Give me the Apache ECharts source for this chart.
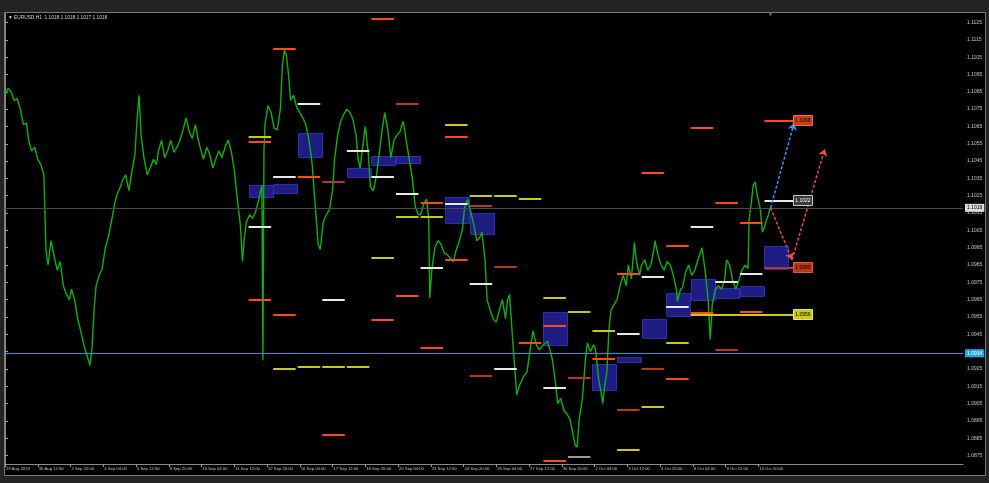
<!DOCTYPE html>
<html><head><meta charset="utf-8">
<script src="https://cdn.jsdelivr.net/npm/echarts@6/dist/echarts.min.js"></script>
<style>html,body{margin:0;padding:0;background:#242424;}#c{width:989px;height:483px;}</style>
</head><body><div id="c"></div>
<script>
// ---------- data ----------
const titleText = '\u25BC EURUSD,H1  1.1018 1.1018 1.1017 1.1018';
const xLabels = ['29 Aug 2019','30 Aug 12:00','2 Sep 20:00','4 Sep 04:00','5 Sep 12:00','6 Sep 20:00','10 Sep 04:00','11 Sep 12:00','12 Sep 20:00','16 Sep 04:00','17 Sep 12:00','18 Sep 20:00','20 Sep 04:00','23 Sep 12:00','24 Sep 20:00','26 Sep 04:00','27 Sep 12:00','30 Sep 20:00','2 Oct 04:00','3 Oct 12:00','4 Oct 20:00','8 Oct 04:00','9 Oct 12:00','10 Oct 20:00'];
const barsPerLabel = 32;
const yTicks = [1.0875,1.0885,1.0895,1.0905,1.0915,1.0925,1.0935,1.0945,1.0955,1.0965,1.0975,1.0985,1.0995,1.1005,1.1015,1.1025,1.1035,1.1045,1.1055,1.1065,1.1075,1.1085,1.1095,1.1105,1.1115,1.1125];
const bidPrice = 1.1018;
const cyanLevel = 1.0934;
// close price per H1 bar index [bar, close]
const priceLine = [[0,1.1083],[3,1.1087],[6,1.1085],[9,1.1080],[12,1.1081],[15,1.1075],[18,1.1066],[21,1.1067],[23,1.1057],[26,1.1051],[29,1.1053],[32,1.1046],[35,1.1043],[38,1.1037],[40,1.0994],[42,1.0985],[45,1.0999],[48,1.0990],[51,1.0982],[54,1.0987],[57,1.0973],[60,1.0968],[63,1.0965],[65,1.0971],[68,1.0965],[71,1.0954],[74,1.0947],[77,1.0939],[80,1.0933],[83,1.0927],[85,1.0937],[87,1.0959],[89,1.0973],[92,1.0979],[95,1.0983],[98,1.0995],[101,1.1001],[104,1.1010],[107,1.1020],[109,1.1025],[112,1.1029],[115,1.1034],[118,1.1037],[121,1.1028],[124,1.1039],[127,1.1049],[129,1.1069],[131,1.1083],[133,1.1060],[136,1.1046],[139,1.1037],[142,1.1041],[145,1.1046],[148,1.1043],[150,1.1051],[153,1.1057],[156,1.1047],[159,1.1051],[162,1.1057],[165,1.1050],[168,1.1053],[171,1.1057],[174,1.1063],[177,1.1070],[180,1.1062],[183,1.1058],[186,1.1066],[189,1.1057],[192,1.1050],[194,1.1046],[197,1.1053],[200,1.1049],[203,1.1041],[206,1.1046],[209,1.1051],[212,1.1047],[215,1.1053],[218,1.1057],[221,1.1051],[224,1.1040],[227,1.1023],[230,1.1008],[232,1.0987],[234,1.1002],[236,1.1010],[239,1.1014],[242,1.1012],[245,1.1016],[248,1.1023],[251,1.1031],[252,1.0930],[253,1.1051],[254,1.1066],[257,1.1077],[260,1.1073],[263,1.1064],[266,1.1063],[269,1.1075],[271,1.1100],[273,1.1109],[275,1.1106],[277,1.1095],[279,1.1080],[282,1.1083],[285,1.1076],[288,1.1073],[291,1.1070],[294,1.1066],[297,1.1057],[300,1.1044],[303,1.1020],[306,1.0997],[308,1.0994],[311,1.1010],[314,1.1014],[317,1.1017],[320,1.1028],[322,1.1046],[325,1.1060],[328,1.1068],[331,1.1072],[334,1.1075],[337,1.1073],[340,1.1069],[343,1.1060],[345,1.1046],[347,1.1041],[349,1.1051],[352,1.1065],[355,1.1049],[357,1.1030],[360,1.1028],[363,1.1037],[365,1.1046],[368,1.1061],[371,1.1073],[374,1.1063],[377,1.1047],[380,1.1057],[383,1.1060],[386,1.1062],[389,1.1068],[392,1.1057],[395,1.1046],[398,1.1035],[401,1.1018],[404,1.1014],[406,1.1014],[409,1.1020],[412,1.1023],[414,1.1011],[415,1.0966],[417,1.0982],[420,1.0995],[423,1.0999],[426,1.0997],[429,1.0992],[432,1.0991],[435,1.0989],[438,1.0987],[441,1.0994],[444,1.0999],[447,1.1006],[449,1.1018],[452,1.1023],[455,1.1016],[458,1.1008],[461,1.0999],[464,1.1001],[466,1.1004],[469,1.0988],[471,1.0965],[474,1.0959],[477,1.0954],[480,1.0952],[483,1.0959],[486,1.0965],[489,1.0954],[491,1.0965],[493,1.0968],[496,1.0942],[498,1.0926],[500,1.0910],[503,1.0916],[507,1.0921],[510,1.0923],[513,1.0936],[516,1.0947],[519,1.0939],[522,1.0936],[526,1.0939],[530,1.0941],[532,1.0937],[535,1.0930],[538,1.0916],[540,1.0905],[543,1.0908],[546,1.0901],[549,1.0899],[552,1.0896],[555,1.0887],[557,1.0881],[559,1.0880],[561,1.0896],[564,1.0907],[567,1.0930],[569,1.0940],[572,1.0935],[575,1.0939],[577,1.0936],[580,1.0919],[582,1.0913],[584,1.0905],[586,1.0916],[588,1.0923],[590,1.0947],[592,1.0959],[595,1.0962],[598,1.0965],[601,1.0973],[604,1.0979],[607,1.0973],[609,1.0985],[612,1.0977],[615,1.0998],[617,1.0987],[620,1.0979],[622,1.0985],[625,1.0988],[628,1.0982],[631,1.0985],[634,1.0994],[635,1.0999],[638,1.0991],[641,1.0985],[644,1.0982],[647,1.0987],[650,1.0985],[653,1.0979],[656,1.0971],[657,1.0964],[660,1.0971],[662,1.0972],[665,1.0981],[668,1.0985],[671,1.0979],[674,1.0982],[677,1.0988],[681,1.0995],[684,1.0982],[687,1.0965],[689,1.0942],[691,1.0962],[694,1.0971],[697,1.0973],[700,1.0971],[703,1.0976],[705,1.0988],[708,1.0985],[711,1.0976],[714,1.0971],[717,1.0976],[720,1.0982],[723,1.0985],[726,1.0983],[727,1.1011],[729,1.1020],[731,1.1031],[733,1.1033],[735,1.1025],[737,1.1020],[738,1.1017],[740,1.1004],[742,1.1007],[744,1.1011],[746,1.1014],[747,1.1017],[748,1.1018]];
// daily level segments [startBar, price]
const whiteLv = [[238,1.1007],[262,1.1036],[286,1.1078],[310,1.0965],[334,1.1051],[358,1.1036],[382,1.1026],[406,1.0983],[430,1.1020],[454,1.0974],[478,1.0925],[526,1.0914],[598,1.0945],[622,1.0978],[646,1.0961],[670,1.1007],[694,1.0975],[718,1.0980]];
const greyLv = [[550,1.0874]];
const orangeLv = [[238,1.1056],[238,1.0965],[262,1.1110],[262,1.0956],[286,1.1036],[310,1.0887],[358,1.1127],[358,1.0953],[382,1.0967],[406,1.1021],[406,1.0937],[430,1.1059],[430,1.0988],[502,1.0940],[526,1.0950],[526,1.0872],[574,1.0931],[598,1.0980],[622,1.1038],[646,1.0996],[646,1.0919],[670,1.1064],[670,1.0957],[694,1.1021],[718,1.1009],[718,1.0958]];
const darkLv = [[310,1.1033],[382,1.1078],[454,1.1019],[454,1.0921],[478,1.0984],[550,1.0920],[598,1.0901],[622,1.0925],[694,1.0936]];
const yellowLv = [[238,1.1059],[262,1.0925],[286,1.0926],[310,1.0926],[334,1.0926],[358,1.0989],[382,1.1013],[406,1.1013],[430,1.1066],[454,1.1025],[478,1.1025],[502,1.1023],[526,1.0966],[550,1.0958],[574,1.0947],[598,1.0878],[622,1.0903],[646,1.0940]];
// labelled levels [startBar, endBar, price, colour index]
const lastLv = [[742,770,1.1068,1],[742,770,1.1022,0],[742,770,1.0983,2],[670,770,1.0956,3]];
// daily boxes [startBar, top, bottom]
const boxLv = [[238,1.1031,1.1024],[262,1.1032,1.1027],[286,1.1061,1.1047],[334,1.1041,1.1036],[358,1.1048,1.1043],[382,1.1048,1.1044],[430,1.1024,1.1009],[454,1.1015,1.1003],[526,1.0958,1.0939],[574,1.0928,1.0913],[598,1.0932,1.0929],[622,1.0954,1.0943],[646,1.0969,1.0956],[670,1.0977,1.0965],[694,1.0972,1.0966],[718,1.0973,1.0967],[742,1.0996,1.0983]];
// projection arrows
const blueArrow = [[748,1.1018],[771,1.1067]];
const redArrow = [[748,1.1018],[769,1.0988],[801,1.1052]];

// ---------- chart ----------
const SEG_LEN = 22;
const segColors = ['#e8e8e8','#ff4a12','#b8361c','#c9c91c','#9a9a9a'];
const lblFill = ['#3a3a3a','#c8401a','#b8361c','#c9c91c'];
const lblStroke = ['#c8c8c8','#ff6a3a','#e05a3a','#e8e850'];
const lblText = ['#ffffff','#000000','#000000','#000000'];
const segData = [].concat(
  whiteLv.map(([s,p])=>[s,s+SEG_LEN,p,0]),
  orangeLv.map(([s,p])=>[s,s+SEG_LEN,p,1]),
  darkLv.map(([s,p])=>[s,s+SEG_LEN,p,2]),
  yellowLv.map(([s,p])=>[s,s+SEG_LEN,p,3]),
  greyLv.map(([s,p])=>[s,s+SEG_LEN,p,4]),
  lastLv.map(([s,e,p,c])=>[s,e,p,c])
);
const boxData = boxLv.map(([s,t,b])=>[s,s+SEG_LEN+1,t,b]);
const lblData = lastLv.map(([s,e,p,c])=>[e,p,c]);
const xTickIdx = xLabels.map((_,k)=>k*barsPerLabel);
const FONT = '"Liberation Sans", "DejaVu Sans", sans-serif';

const chart = echarts.init(document.getElementById('c'));
chart.setOption({
  animation:false,
  backgroundColor:'#242424',
  grid:{left:5,right:26,top:13,bottom:19},
  graphic:[
    {type:'rect', z:-10, shape:{x:4.5,y:12.5,width:981,height:463}, style:{fill:'#000',stroke:'#7a7a7a',lineWidth:1}},
    {type:'text', z:50, left:8, top:15, style:{text:titleText, fill:'#d8d8d8', font:'4.8px '+FONT}},
    {type:'text', z:50, left:768, top:12, style:{text:'\u25BC', fill:'#8a8a8a', font:'5px '+FONT}}
  ],
  xAxis:{type:'value', min:0, max:936,
    axisLine:{show:true,onZero:false,lineStyle:{color:'#8a8a8a',width:1}},
    splitLine:{show:false},
    axisTick:{show:true,customValues:xTickIdx,length:3,lineStyle:{color:'#9a9a9a'}},
    axisLabel:{customValues:xTickIdx, showMinLabel:true, hideOverlap:false, formatter:v=>xLabels[Math.round(v/barsPerLabel)]||'', align:'left', color:'#c4c4c4', fontSize:4.2, fontFamily:FONT, margin:3, padding:[0,0,0,1]}
  },
  yAxis:{type:'value', position:'right', min:1.08701, max:1.11305, scale:true,
    axisLine:{show:true,lineStyle:{color:'#8a8a8a',width:1}},
    splitLine:{show:false},
    axisTick:{show:true,customValues:yTicks,length:3,lineStyle:{color:'#9a9a9a'}},
    axisLabel:{customValues:yTicks, showMinLabel:true, showMaxLabel:true, formatter:v=>v.toFixed(4), color:'#c4c4c4', fontSize:5, fontFamily:FONT, margin:4}
  },
  series:[
    {type:'custom', z:1, silent:true, data:boxData, encode:{x:[0,1],y:[2,3]},
      renderItem:(params,api)=>{
        const a=api.coord([api.value(0),api.value(2)]), b=api.coord([api.value(1),api.value(3)]);
        return {type:'rect', shape:{x:Math.round(a[0])+0.5,y:Math.round(a[1])+0.5,width:Math.round(b[0]-a[0]),height:Math.round(b[1]-a[1])},
          style:{fill:'#1d1d84',stroke:'#2e2eaa',lineWidth:1}};
      }},
    {type:'line', z:2, data:priceLine, showSymbol:false, symbol:'none', silent:true,
      lineStyle:{color:'#12ae12',width:1.4},
      markLine:{silent:true, symbol:'none', animation:false, precision:4,
        data:[
          {yAxis:bidPrice, lineStyle:{color:'#4a4a4a',width:1,type:'solid'},
            label:{show:true,position:'end',distance:2,formatter:p=>Number(p.value).toFixed(4),backgroundColor:'#dcdcdc',color:'#000',fontSize:5,fontFamily:FONT,padding:[2,2,1,2]}},
          {yAxis:cyanLevel, lineStyle:{color:'#1e9ad6',width:1,type:'solid'},
            label:{show:true,position:'end',distance:2,formatter:p=>Number(p.value).toFixed(4),backgroundColor:'#22a6e0',color:'#ffffff',fontSize:5,fontFamily:FONT,padding:[2,2,1,2]}}
        ]}},
    {type:'custom', z:3, silent:true, data:segData, encode:{x:[0,1],y:2},
      renderItem:(params,api)=>{
        const a=api.coord([api.value(0),api.value(2)]), b=api.coord([api.value(1),api.value(2)]);
        const y=Math.round(a[1]);
        return {type:'line', shape:{x1:a[0],y1:y,x2:b[0],y2:y}, style:{stroke:segColors[api.value(3)],lineWidth:2}};
      }},
    {type:'lines', coordinateSystem:'cartesian2d', z:5, silent:true, polyline:false,
      symbol:['none','arrow'], symbolSize:7,
      lineStyle:{color:'#3a96ff',width:1.5,type:[3,2],opacity:1},
      data:[{coords:blueArrow}]},
    {type:'lines', coordinateSystem:'cartesian2d', z:5, silent:true, polyline:false,
      symbol:['none','arrow'], symbolSize:7,
      lineStyle:{color:'#f04a4a',width:1.5,type:[3,2],opacity:1},
      data:redArrow.slice(1).map((pt,k)=>({coords:[redArrow[k],pt]}))},
    {type:'custom', z:6, silent:true, clip:false, data:lblData, encode:{x:0,y:1},
      renderItem:(params,api)=>{
        const c=api.coord([api.value(0),api.value(1)]), ci=api.value(2);
        const x=Math.round(c[0])+0.5, y=Math.round(c[1]);
        return {type:'group', children:[
          {type:'rect', shape:{x:x,y:y-5.5,width:19,height:10}, style:{fill:lblFill[ci],stroke:lblStroke[ci],lineWidth:1}},
          {type:'text', x:x+9.5, y:y, style:{text:api.value(1).toFixed(4), fill:lblText[ci], font:'5px '+FONT, align:'center', verticalAlign:'middle'}}
        ]};
      }}
  ]
});
</script>
</body></html>
